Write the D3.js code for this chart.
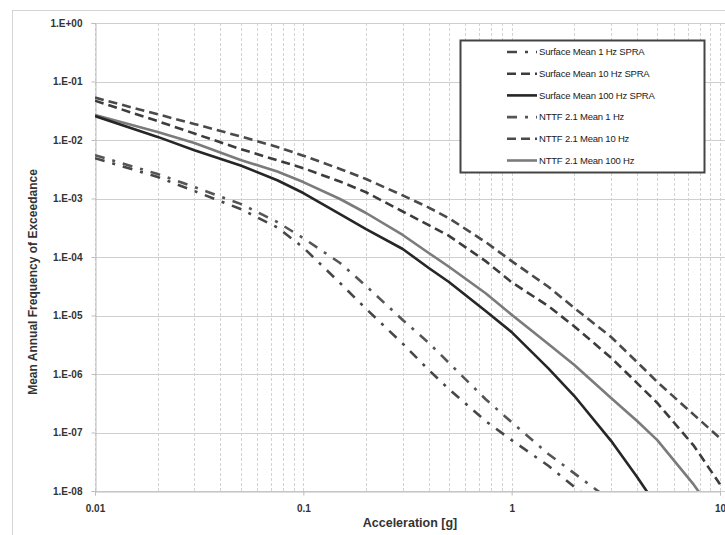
<!DOCTYPE html>
<html><head><meta charset="utf-8">
<script src="https://cdn.jsdelivr.net/npm/d3@7"></script>
<style>
body{margin:0;background:#fff;}
svg{display:block;}
text{font-family:"Liberation Sans",Arial,sans-serif;}
</style>
</head><body>
<svg id="chart" width="725" height="535"></svg>
<script>
// ---------- data ----------
const accel = [0.01,0.02,0.03,0.05,0.075,0.1,0.15,0.2,0.3,0.4,0.5,0.75,1,1.5,2,3,4,5,7.5,10];

const surface1Hz   = [4.9e-3,2.33e-3,1.34e-3,6.6e-4,3.2e-4,1.45e-4,3.6e-5,1.3e-5,3.3e-6,1.17e-6,5.5e-7,1.57e-7,7.4e-8,2.7e-8,1.17e-8,3.9e-9,null,null,null,null];
const surface10Hz  = [4.7e-2,2.1e-2,1.29e-2,7.0e-3,4.5e-3,3.3e-3,1.95e-3,1.28e-3,6.0e-4,3.5e-4,2.3e-4,8.5e-5,3.7e-5,1.45e-5,6.5e-6,1.9e-6,7.0e-7,3.2e-7,5.9e-8,1.3e-8];
const surface100Hz = [2.57e-2,1.13e-2,6.7e-3,3.67e-3,2.05e-3,1.24e-3,5.4e-4,3.0e-4,1.37e-4,6.5e-5,3.74e-5,1.19e-5,5.2e-6,1.25e-6,4.2e-7,7.2e-8,1.73e-8,5.4e-9,null,null];
const nttf1Hz      = [5.5e-3,2.62e-3,1.57e-3,8.1e-4,3.96e-4,2.1e-4,7.9e-5,3.2e-5,8.4e-6,3.4e-6,1.55e-6,3.7e-7,1.5e-7,4.3e-8,2.0e-8,6.8e-9,null,null,null,null];
const nttf10Hz     = [5.3e-2,2.75e-2,1.88e-2,1.15e-2,7.6e-3,5.4e-3,3.2e-3,2.15e-3,1.13e-3,7.0e-4,4.6e-4,1.8e-4,8.5e-5,3.1e-5,1.34e-5,4.3e-6,1.6e-6,7.3e-7,2.0e-7,8.0e-8];
const nttf100Hz    = [2.68e-2,1.37e-2,8.9e-3,4.55e-3,2.9e-3,1.91e-3,9.8e-4,5.65e-4,2.38e-4,1.17e-4,6.8e-5,2.4e-5,1.03e-5,3.26e-6,1.43e-6,3.9e-7,1.57e-7,7.4e-8,1.27e-8,3e-9];

const seriesNames = ["Surface Mean 1 Hz SPRA","Surface Mean 10 Hz SPRA","Surface Mean 100 Hz SPRA",
                     "NTTF 2.1 Mean 1 Hz","NTTF 2.1 Mean 10 Hz","NTTF 2.1 Mean 100 Hz"];
const seriesValues = [surface1Hz,surface10Hz,surface100Hz,nttf1Hz,nttf10Hz,nttf100Hz];

const yTickValues = [1,1e-1,1e-2,1e-3,1e-4,1e-5,1e-6,1e-7,1e-8];
const yTickLabels = ["1.E+00","1.E-01","1.E-02","1.E-03","1.E-04","1.E-05","1.E-06","1.E-07","1.E-08"];
const xTickValues = [0.01,0.1,1,10];
const xTickLabels = ["0.01","0.1","1","10"];

const xTitle = "Acceleration [g]";
const yTitle = "Mean Annual Frequency of Exceedance";

// ---------- styles ----------
const styles = [
  {color:"#474747", dash:"10,8,3,8", width:2.6},
  {color:"#3c3c3c", dash:"9,5",      width:2.6},
  {color:"#262626", dash:null,       width:2.6},
  {color:"#555555", dash:"10,8,3,8", width:2.6},
  {color:"#4a4a4a", dash:"9,5",      width:2.6},
  {color:"#7b7b7b", dash:null,       width:2.6}
];
const drawOrder = [0,3,1,4,5,2];

// ---------- layout ----------
const svg = d3.select("#chart");
const L = 95, R = 720, T = 23, B = 491;
const x = d3.scaleLog().domain([0.01,10]).range([L,R]);
const y = d3.scaleLog().domain([1e-8,1]).range([B,T]);

// chart area border
svg.append("rect").attr("x",12.5).attr("y",10.5).attr("width",760).attr("height",560)
  .attr("fill","#fff").attr("stroke","#d4d4d4").attr("stroke-width",1);

// gridlines
const grid = svg.append("g");
grid.selectAll("line.v").data(x.ticks()).join("line")
  .attr("x1",d=>Math.round(x(d))+0.5).attr("x2",d=>Math.round(x(d))+0.5)
  .attr("y1",T).attr("y2",B)
  .attr("stroke","#d2d2d2").attr("stroke-width",1).attr("stroke-dasharray","3,2");
grid.selectAll("line.h").data(yTickValues).join("line")
  .attr("x1",L).attr("x2",725)
  .attr("y1",d=>Math.round(y(d))+0.5).attr("y2",d=>Math.round(y(d))+0.5)
  .attr("stroke","#cfcfcf").attr("stroke-width",1);

// axes
const yAxis = svg.append("g").attr("transform",`translate(${L+0.5},0)`)
  .call(d3.axisLeft(y).tickValues(yTickValues).tickFormat((d,i)=>yTickLabels[i]).tickSize(4).tickPadding(9));
const xAxis = svg.append("g").attr("transform",`translate(0,${B+0.5})`)
  .call(d3.axisBottom(x).tickValues(xTickValues).tickFormat((d,i)=>xTickLabels[i]).tickSize(4).tickPadding(9));
[xAxis,yAxis].forEach(a=>{
  a.select(".domain").attr("stroke","#bdbdbd");
  a.selectAll(".tick line").attr("stroke","#bdbdbd");
  a.selectAll(".tick text").attr("fill","#333").attr("font-size","10px").attr("font-weight","bold")
   .style("font-family","'Liberation Sans',Arial,sans-serif");
});

// titles
svg.append("text").attr("x",410).attr("y",527).attr("text-anchor","middle")
  .attr("font-size","12.5px").attr("font-weight","bold").attr("fill","#333").text(xTitle);
svg.append("text").attr("transform","translate(37,282) rotate(-90)").attr("text-anchor","middle")
  .attr("font-size","12px").attr("font-weight","bold").attr("fill","#333").text(yTitle);

// clip
svg.append("clipPath").attr("id","plotclip").append("rect")
  .attr("x",L).attr("y",T-2).attr("width",725-L).attr("height",B-T+2);

const line = d3.line()
  .defined(d=>d[1]!=null)
  .x(d=>x(d[0])).y(d=>y(d[1]));

const plot = svg.append("g").attr("clip-path","url(#plotclip)");
drawOrder.forEach(i=>{
  const st = styles[i];
  plot.append("path")
    .datum(accel.map((a,k)=>[a,seriesValues[i][k]]))
    .attr("d",line)
    .attr("fill","none")
    .attr("stroke",st.color)
    .attr("stroke-width",st.width)
    .attr("stroke-dasharray",st.dash)
    .attr("stroke-linejoin","round");
});

// legend
const lg = svg.append("g");
lg.append("rect").attr("x",460.5).attr("y",40.5).attr("width",244).attr("height",132)
  .attr("fill","#fff").attr("stroke","#444").attr("stroke-width",2);
seriesNames.forEach((name,i)=>{
  const ry = 52 + i*21.7;
  const st = styles[i];
  lg.append("line").attr("x1",507).attr("x2",537).attr("y1",ry).attr("y2",ry)
    .attr("stroke",st.color).attr("stroke-width",st.width).attr("stroke-dasharray",st.dash);
  lg.append("text").attr("x",539).attr("y",ry).attr("dy","0.35em")
    .attr("font-size","9.5px").attr("fill","#1a1a1a").attr("letter-spacing","-0.2px").text(name);
});
</script>
</body></html>
